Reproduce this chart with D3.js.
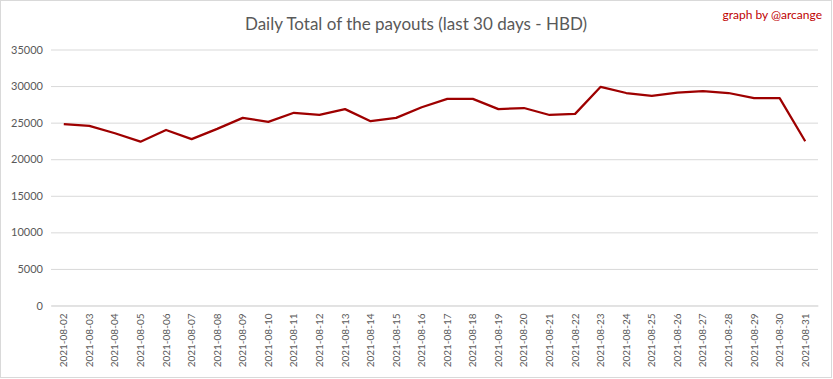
<!DOCTYPE html>
<html><head><meta charset="utf-8">
<script src="https://cdn.jsdelivr.net/npm/d3@7"></script>
<style>body{margin:0;background:#fff}svg{display:block}</style>
</head><body>
<svg id="chart" width="833" height="379"></svg>
<script>
const dates = ["2021-08-02","2021-08-03","2021-08-04","2021-08-05","2021-08-06","2021-08-07","2021-08-08","2021-08-09","2021-08-10","2021-08-11","2021-08-12","2021-08-13","2021-08-14","2021-08-15","2021-08-16","2021-08-17","2021-08-18","2021-08-19","2021-08-20","2021-08-21","2021-08-22","2021-08-23","2021-08-24","2021-08-25","2021-08-26","2021-08-27","2021-08-28","2021-08-29","2021-08-30","2021-08-31"];
const payouts = [24800,24550,23550,22400,24000,22750,24150,25650,25100,26350,26050,26850,25200,25650,27100,28250,28250,26850,27000,26050,26200,29900,29050,28650,29100,29300,29050,28350,28350,22450];
const yTicks = [0,5000,10000,15000,20000,25000,30000,35000];
const titleText = "Daily Total of the payouts (last 30 days - HBD)";
const creditText = "graph by @arcange";

const svg = d3.select("#chart");
const W = 833, H = 379;
const m = {left:51, right:15, top:49.5, bottom:73.5};
const font = "Lato, 'Open Sans', sans-serif";

svg.append("rect").attr("x",0.5).attr("y",0.5).attr("width",W-2).attr("height",H-2)
  .attr("fill","#fff").attr("stroke","#d9d9d9").attr("stroke-width",1);

const x = d3.scaleBand().domain(dates).range([m.left, W - m.right]);
const y = d3.scaleLinear().domain([0,35000]).range([H - m.bottom, m.top]);

// grid
const yAxis = d3.axisLeft(y).tickValues(yTicks).tickSize(-(W - m.right - m.left)).tickPadding(8).tickFormat(d3.format("d"));
const gy = svg.append("g").attr("transform",`translate(${m.left},0)`).call(yAxis);
gy.select(".domain").remove();
gy.selectAll(".tick line").attr("stroke","#d9d9d9").attr("stroke-width",1);
gy.selectAll(".tick text").attr("fill","#595959").style("font-family",font).style("font-size","11px");

// x axis
const xAxis = d3.axisBottom(x).tickSize(0).tickPadding(0);
const gx = svg.append("g").attr("transform",`translate(0,${H - m.bottom})`).call(xAxis);
gx.select(".domain").attr("stroke","#d9d9d9");
gx.selectAll(".tick text")
  .attr("fill","#595959").style("font-family",font).style("font-size","10px")
  .attr("transform","rotate(-90)")
  .attr("text-anchor","end").attr("dy","0.35em").attr("x",-8).attr("y",0);

// line
const line = d3.line().x((d,i)=>x(dates[i]) + x.bandwidth()/2).y(d=>y(d));
svg.append("path").datum(payouts).attr("d",line)
  .attr("fill","none").attr("stroke","#9e0000").attr("stroke-width",2.25)
  .attr("stroke-linejoin","round");

// title
svg.append("text").attr("x",416).attr("y",30).attr("text-anchor","middle")
  .attr("fill","#595959").style("font-family",font).style("font-size","17px").text(titleText);
svg.append("text").attr("x",822).attr("y",19).attr("text-anchor","end")
  .attr("fill","#c00000").style("font-family",font).style("font-size","12px").text(creditText);
</script>
</body></html>
